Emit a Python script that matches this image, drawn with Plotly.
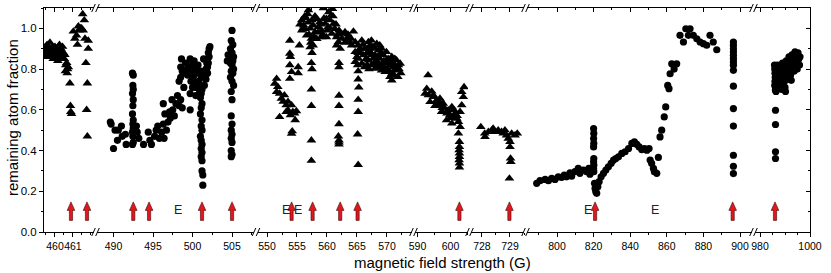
import plotly.graph_objects as go

# ---------------- data ----------------
# segment 1 (triangles)
s1_x = [459.42,459.47,459.52,459.56,459.6,459.64,459.68,459.72,459.76,459.8,459.84,459.88,459.92,459.96,460.0,
        460.04,460.08,460.12,460.16,460.2,460.25,460.29,460.33,460.37,460.42,460.47,460.52,460.55,460.6,460.65,
        460.58,460.68,460.7,460.74,460.83,460.86,460.88,460.92,
        459.5,459.7,459.9,460.1,460.3,
        461.02,461.11,461.2,461.25,461.3,461.35,461.4,461.44,461.48,461.54,461.57,461.63,461.67,461.72,461.76,
        461.8,461.8,461.85,461.85]
s1_y = [0.89,0.91,0.88,0.92,0.87,0.90,0.86,0.93,0.89,0.90,0.88,0.91,0.87,0.89,0.91,
        0.88,0.86,0.90,0.84,0.89,0.92,0.88,0.90,0.86,0.91,0.88,0.85,0.87,0.82,0.83,
        0.79,0.78,0.80,0.81,0.73,0.62,0.59,0.58,
        0.86,0.87,0.85,0.87,0.85,
        0.985,0.95,0.965,0.92,1.01,0.99,1.0,1.0,1.0,1.07,0.99,1.04,0.95,0.83,0.60,
        0.73,0.47,0.94,0.90]

# segment 2 (circles)
s2_x = [489.6,489.7,490.0,490.2,490.5,490.6,491.0,491.1,491.5,491.6,
        492.4,492.5,492.45,492.5,492.4,492.5,492.45,492.4,492.5,492.45,492.5,492.4,492.45,492.5,492.4,
        492.9,493.0,493.2,493.8,494.4,494.6,494.8,495.2,495.4,495.6,495.8,496.1,496.3,496.4,496.7,496.3,496.5,
        496.9,497.1,497.2,497.4,497.5,497.7,497.9,498.1,498.3,498.5,498.7,498.9,498.6,498.5,498.7,498.3,498.5,
        499.1,499.3,499.5,499.7,499.9,500.1,499.8,499.7,499.7,500.3,500.5,500.4,500.5,
        499.9,500.2,500.0,500.6,500.8,500.7,499.4,498.9,500.2,500.9,
        501.0,501.1,501.0,501.2,501.1,501.0,501.2,501.1,501.0,501.2,501.1,501.2,501.0,501.1,501.2,501.1,501.2,
        501.1,501.2,501.2,501.3,501.3,
        501.5,501.6,501.7,501.8,501.9,502.0,502.1,501.9,501.7,501.4,501.3,502.2,502.1,502.0,501.9,
        505.0,504.9,505.1,504.8,505.0,505.2,504.9,505.1,504.8,505.0,505.2,504.9,505.1,504.8,505.0,505.2,
        504.9,505.0,504.9,505.0,504.9,505.0,504.9,505.0,504.9,505.0,504.9,504.4,504.5]
s2_y = [0.54,0.53,0.41,0.50,0.45,0.50,0.52,0.47,0.48,0.43,
        0.78,0.77,0.72,0.70,0.68,0.65,0.62,0.58,0.55,0.53,0.51,0.49,0.47,0.44,0.43,
        0.52,0.49,0.46,0.43,0.49,0.45,0.43,0.47,0.50,0.52,0.46,0.49,0.53,0.46,0.50,0.63,0.58,
        0.54,0.59,0.56,0.65,0.60,0.57,0.63,0.67,0.62,0.65,0.61,0.71,0.85,0.81,0.79,0.74,0.76,
        0.83,0.80,0.81,0.85,0.79,0.76,0.74,0.68,0.60,0.73,0.71,0.67,0.81,
        0.82,0.79,0.71,0.78,0.74,0.82,0.77,0.78,0.84,0.69,
        0.79,0.76,0.72,0.70,0.68,0.66,0.63,0.61,0.58,0.55,0.52,0.50,0.47,0.45,0.43,0.41,0.39,
        0.37,0.35,0.30,0.28,0.23,
        0.72,0.76,0.80,0.83,0.85,0.88,0.90,0.81,0.75,0.85,0.78,0.91,0.86,0.83,0.78,
        0.99,0.94,0.92,0.90,0.88,0.86,0.85,0.84,0.83,0.82,0.80,0.79,0.78,0.76,0.74,0.72,
        0.69,0.65,0.57,0.53,0.50,0.48,0.46,0.44,0.40,0.38,0.37,0.84,0.87]

# segment 3 (triangles)
s3_x = [551.6,551.3,551.8,551.6,552.1,552.4,552.9,552.7,553.2,553.5,554.1,553.2,553.5,554.3,554.6,554.9,552.1,553.9,554.7,554.2,554.1,
        553.8,553.8,553.9,553.8,554.1,553.8,555.2,555.4,555.2,
        557.4,557.5,557.4,557.4,557.4,557.4,
        555.8,556.1,555.8,556.3,556.9,556.9,557.2,556.6,557.4,557.2,557.7,558.0,558.6,558.8,559.4,559.1,559.7,559.9,560.2,
        560.5,560.9,561.1,561.3,560.8,559.9,561.6,561.9,561.6,562.2,562.4,563.0,563.3,563.8,564.4,563.6,564.1,558.3,559.1,
        557.7,556.3,558.3,560.7,
        556.0,556.5,557.0,557.5,558.0,558.5,559.0,559.5,560.0,560.5,561.0,561.5,562.0,562.5,563.0,557.3,557.5,557.8,
        556.8,559.3,560.3,561.8,563.5,564.0,555.5,
        562.0,562.0,562.0,562.0,562.0,561.9,562.0,562.0,562.0,
        565.2,565.1,565.2,565.2,565.3,565.2,565.2,565.1,565.2,
        564.7,565.2,565.8,566.3,566.9,567.2,567.4,567.7,568.0,568.3,568.6,568.8,569.1,569.4,569.7,569.9,570.2,570.5,570.8,
        571.1,571.3,571.6,571.9,572.2,570.8,570.2,570.5,570.8,571.8,564.7,565.2,565.8,566.3,566.9,567.4,568.0,568.6,569.1,
        569.7,566.1,566.6,567.7,568.3,569.4,564.7,565.5,567.2,568.8,569.9,571.3,
        566.0,566.5,567.0,567.5,568.0,568.5,569.0,569.5,570.0,570.5,571.0,571.5,572.0,565.5,566.7,567.9,569.2,570.1,
        571.2,572.3,565.0,567.0,568.4,569.6]
s3_y = [0.753,0.729,0.713,0.688,0.680,0.655,0.672,0.640,0.623,0.640,0.623,0.590,0.598,0.590,0.582,0.594,0.565,0.574,0.550,0.495,0.483,
        0.94,0.876,0.86,0.82,0.786,0.753,0.81,0.917,0.78,
        0.83,0.80,0.70,0.62,0.45,0.35,
        1.04,1.015,0.99,1.06,1.09,1.03,1.0,0.966,0.95,0.908,0.917,0.982,1.007,1.03,1.10,0.99,1.023,1.047,1.007,
        1.04,1.096,1.023,0.998,0.974,0.957,0.957,0.933,0.917,0.90,0.974,0.982,0.949,0.933,0.985,0.957,0.917,0.949,0.957,
        1.015,0.998,1.047,1.064,
        1.0,1.05,0.97,1.04,1.06,0.98,1.02,1.05,0.99,1.0,1.06,1.02,0.99,0.95,0.93,0.93,0.88,0.96,
        1.07,0.97,1.08,0.97,0.97,0.95,1.02,
        0.83,0.81,0.67,0.62,0.53,0.47,0.45,0.44,0.43,
        0.88,0.82,0.79,0.75,0.71,0.65,0.59,0.48,0.33,
        0.884,0.917,0.941,0.90,0.933,0.884,0.941,0.908,0.868,0.925,0.892,0.851,0.90,0.868,0.827,0.884,0.851,0.819,0.86,
        0.827,0.794,0.843,0.819,0.827,0.778,0.786,0.762,0.745,0.762,0.835,0.851,0.827,0.81,0.843,0.819,0.802,0.827,0.794,
        0.786,0.868,0.876,0.851,0.835,0.81,0.933,0.884,0.917,0.917,0.843,0.851,
        0.92,0.85,0.90,0.87,0.90,0.86,0.88,0.84,0.83,0.84,0.81,0.80,0.80,0.90,0.82,0.83,0.82,0.80,
        0.77,0.78,0.86,0.80,0.81,0.80]

# segment 4 (triangles)
s4_x = [593.2,592.8,592.3,593.3,594.8,593.8,595.8,596.8,596.3,597.8,598.3,597.3,599.3,599.8,600.4,601.4,601.9,598.8,600.4,
        602.4,602.9,603.4,603.9,604.1,603.4,602.9,602.4,594.3,594.8,597.0,598.9,600.9,
        595.3,596.0,597.5,599.0,600.0,601.0,602.0,
        602.7,602.7,602.6,602.7,602.7,602.6,602.7,602.7]
s4_y = [0.77,0.704,0.680,0.672,0.663,0.639,0.647,0.655,0.623,0.631,0.606,0.590,0.598,0.574,0.614,0.582,0.557,0.549,0.533,
        0.541,0.590,0.623,0.663,0.712,0.688,0.516,0.484,0.690,0.672,0.631,0.582,0.565,
        0.62,0.64,0.61,0.59,0.56,0.60,0.57,
        0.443,0.418,0.402,0.386,0.369,0.353,0.337,0.317]

# segment 5 (triangles)
s5_x = [727.96,728.11,728.23,728.35,728.46,728.58,728.70,728.82,728.88,728.94,729.0,729.06,729.18,729.26,729.0,729.02,729.03,
        728.98,728.10,728.40,728.76]
s5_y = [0.516,0.467,0.492,0.50,0.492,0.50,0.492,0.50,0.475,0.459,0.443,0.484,0.475,0.484,0.418,0.361,0.345,
        0.263,0.484,0.508,0.484]

# segment 6 (circles)
s6_x = [788.9,790.7,793.5,795.3,797.1,798.9,800.7,802.5,804.0,805.2,807.1,808.0,809.8,811.6,812.5,814.4,816.2,817.4,818.0,
        820.0,820.1,820.0,820.1,820.0,820.1,820.0,820.1,820.0,820.1,
        820.5,820.8,821.2,821.7,822.3,823.0,824.1,825.4,826.7,828.1,829.6,830.9,832.1,833.6,835.4,837.2,839.1,840.9,842.3,
        843.6,844.9,846.3,847.8,849.1,850.3,
        850.9,851.7,852.7,853.2,854.5,855.4,856.3,857.2,858.6,859.4,860.5,861.2,861.8,862.7,865.4,864.0,
        867.2,869.1,870.4,872.7,871.8,874.5,876.4,878.2,880.0,881.8,883.6,885.4,887.3,
        896.4,896.4,896.4,896.4,896.4,896.4,896.4,896.4,896.4,896.4,896.4,896.4,896.4,896.4,896.4]
s6_y = [0.239,0.252,0.258,0.252,0.263,0.258,0.271,0.268,0.279,0.271,0.291,0.274,0.296,0.312,0.288,0.304,0.296,0.312,0.284,
        0.508,0.484,0.459,0.435,0.418,0.361,0.345,0.328,0.312,0.296,
        0.239,0.214,0.198,0.190,0.222,0.247,0.271,0.288,0.304,0.320,0.337,0.353,0.361,0.369,0.386,0.394,0.410,0.435,0.443,
        0.431,0.418,0.405,0.410,0.402,0.410,
        0.353,0.337,0.312,0.296,0.288,0.366,0.467,0.50,0.565,0.614,0.720,0.704,0.777,0.826,0.826,0.80,
        0.966,0.933,0.998,0.998,0.966,0.966,0.949,0.933,0.925,0.917,0.966,0.933,0.895,
        0.933,0.917,0.90,0.884,0.868,0.851,0.835,0.819,0.794,0.716,0.606,0.52,0.377,0.323,0.287]

# segment 7 (circles)
s7_x = [986.2,986.2,986.2,986.2,986.2,986.3,
        985.8,985.9,986.0,986.1,986.0,985.9,986.2,986.4,987.0,987.2,987.5,987.3,987.8,988.0,988.2,988.5,988.7,989.0,
        989.3,989.5,989.8,990.0,990.2,990.5,990.8,991.0,991.3,991.6,991.8,992.0,992.2,992.5,992.8,993.0,993.3,993.6,
        994.0,994.3,994.6,994.9,995.2,995.5,995.8,996.0]
s7_y = [0.361,0.394,0.528,0.598,0.696,0.71,
        0.82,0.80,0.78,0.76,0.74,0.72,0.70,0.69,0.82,0.79,0.76,0.73,0.81,0.78,0.75,0.72,0.70,0.83,
        0.80,0.77,0.74,0.71,0.69,0.84,0.81,0.78,0.75,0.86,0.83,0.80,0.77,0.745,0.87,0.84,0.81,0.79,
        0.885,0.86,0.83,0.80,0.88,0.85,0.82,0.86]

# resonance arrows and "E" labels, per segment
arrows = [[460.89, 461.78], [492.5, 494.5, 501.2, 505.0], [554.1, 557.6, 562.2, 565.1],
          [602.7], [728.98], [820.8, 896.0], [986.0]]
e_marks = [[], [498.1], [553.2, 555.2], [], [], [817.1, 853.6], []]

# axis segments: ranges, tick labels
ranges = [[459.39, 462.17], [487.91, 507.78], [548.5, 574.17], [589.24, 605.3],
          [727.61, 729.5], [783.6, 906.56], [978.0, 1000.0]]
tickvals = [[460, 461], [490, 495, 500, 505], [550, 555, 560, 565, 570], [590, 600],
            [728, 729], [800, 820, 840, 860, 880, 900], [980, 1000]]
tick0 = [460, 490, 550, 590, 728, 800, 980]
mdtick = [0.5, 2.5, 2.5, 5, 0.5, 10, 5]

xs = [s1_x, s2_x, s3_x, s4_x, s5_x, s6_x, s7_x]
ys = [s1_y, s2_y, s3_y, s4_y, s5_y, s6_y, s7_y]
symbols = ["triangle-up", "circle", "triangle-up", "triangle-up", "triangle-up", "circle", "circle"]

# ---------------- layout geometry ----------------
W, H = 831, 273
ML, MR, MT, MB = 44, 21, 8, 41
PW, PH = W - ML - MR, H - MT - MB
seg_px = [(44, 94), (97, 254), (258, 412), (415, 468), (471, 524), (527, 752), (755, 810)]


def px2paper(p):
    return (p - ML) / PW


def py2paper(p):
    return (H - MB - p) / PH


FONT = "Arial, Liberation Sans, sans-serif"
fig = go.Figure()

for i in range(7):
    xa = "x" if i == 0 else f"x{i + 1}"
    sz = 8.5 if symbols[i] == "triangle-up" else 7.2
    fig.add_trace(go.Scatter(x=xs[i], y=ys[i], mode="markers", xaxis=xa, yaxis="y",
                             marker=dict(symbol=symbols[i], size=sz, color="black", line=dict(width=0)),
                             showlegend=False, hoverinfo="skip"))
    fig.add_trace(go.Scatter(x=[], y=[], xaxis=f"x{i + 8}", yaxis="y", showlegend=False, hoverinfo="skip"))
fig.add_trace(go.Scatter(x=[], y=[], xaxis="x7", yaxis="y2", showlegend=False, hoverinfo="skip"))

layout = dict(width=W, height=H, margin=dict(l=ML, r=MR, t=MT, b=MB, pad=0),
              plot_bgcolor="white", paper_bgcolor="white",
              font=dict(family=FONT, color="black"), showlegend=False)

for i in range(7):
    key = "xaxis" if i == 0 else f"xaxis{i + 1}"
    dom = [px2paper(seg_px[i][0]), px2paper(seg_px[i][1])]
    common = dict(domain=dom, range=ranges[i], tickmode="array", tickvals=tickvals[i], tickangle=0,
                  ticklen=4, tickwidth=1, tickcolor="black", showline=True, linecolor="black",
                  linewidth=1, showgrid=False, zeroline=False, fixedrange=True)
    layout[key] = dict(common, anchor="y", ticks="outside", tickfont=dict(size=10.5),
                       minor=dict(tick0=tick0[i], dtick=mdtick[i], ticks="outside", ticklen=2,
                                  tickcolor="black", showgrid=False))
    layout[f"xaxis{i + 8}"] = dict(common, anchor="y", side="top",
                                   overlaying="x" if i == 0 else f"x{i + 1}",
                                   ticks="inside", showticklabels=False,
                                   minor=dict(tick0=tick0[i], dtick=mdtick[i], ticks="inside",
                                              ticklen=2, tickcolor="black", showgrid=False))

ycommon = dict(range=[0, 1.1], tickmode="linear", tick0=0, dtick=0.2, ticklen=4, tickwidth=1,
               tickcolor="black", showline=True, linecolor="black", linewidth=1, showgrid=False,
               zeroline=False, fixedrange=True, domain=[0, 1])
layout["yaxis"] = dict(ycommon, anchor="x", ticks="outside", tickformat=".1f", tickfont=dict(size=11.5),
                       minor=dict(dtick=0.1, ticks="outside", ticklen=2, tickcolor="black", showgrid=False))
layout["yaxis2"] = dict(ycommon, anchor="x7", side="right", overlaying="y", ticks="inside",
                        showticklabels=False,
                        minor=dict(dtick=0.1, ticks="inside", ticklen=2, tickcolor="black", showgrid=False))
fig.update_layout(**layout)

shapes = []
annotations = []
arrow_path = "M -1.6 0 L 1.6 0 L 1.6 10 L 3.8 10 L 0 18.5 L -3.8 10 L -1.6 10 Z"
for i in range(7):
    xa = "x" if i == 0 else f"x{i + 1}"
    for ax in arrows[i]:
        shapes.append(dict(type="path", xref=xa, yref="y", xsizemode="pixel", ysizemode="pixel",
                           xanchor=ax, yanchor=0.057, path=arrow_path,
                           fillcolor="#e3161b", line=dict(color="#3a0a0a", width=0.6), layer="above"))
    for ex in e_marks[i]:
        annotations.append(dict(x=ex, y=0.106, xref=xa, yref="y", text="E", showarrow=False,
                                font=dict(size=12.5, family=FONT, color="#222222"),
                                xanchor="center", yanchor="middle"))

# axis-break marks
for i in range(6):
    c = (seg_px[i][1] + seg_px[i + 1][0]) / 2
    for yb in (H - MB, MT):
        for off in (-2.0, 2.0):
            shapes.append(dict(type="line", xref="paper", yref="paper",
                               x0=px2paper(c + off - 1.8), y0=py2paper(yb + 4),
                               x1=px2paper(c + off + 1.8), y1=py2paper(yb - 4),
                               line=dict(color="black", width=1)))

annotations.append(dict(x=px2paper(12), y=py2paper(118), xref="paper", yref="paper",
                        text="remaining atom fraction", textangle=-90, showarrow=False,
                        font=dict(size=15, family=FONT), xanchor="center", yanchor="middle"))
annotations.append(dict(x=px2paper(442), y=py2paper(262), xref="paper", yref="paper",
                        text="magnetic field strength (G)", showarrow=False,
                        font=dict(size=15, family=FONT), xanchor="center", yanchor="middle"))

fig.update_layout(shapes=shapes, annotations=annotations)
fig.write_html("out.html", config={"displayModeBar": False},
               post_script="document.body.style.margin='0';document.body.style.overflow='hidden';")
